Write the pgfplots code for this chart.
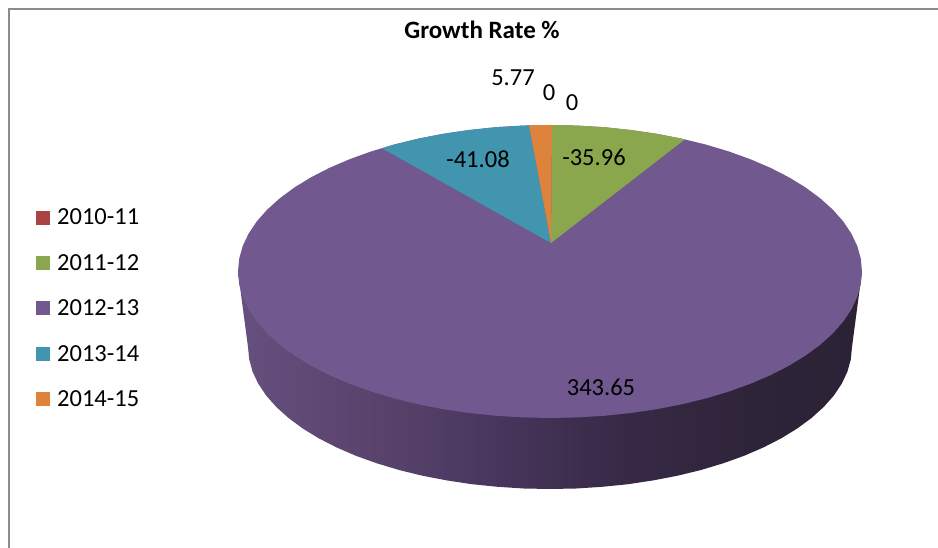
\documentclass[border=0pt]{standalone}
\usepackage{pgfplots}
\pgfplotsset{compat=1.18}
\usepackage{fontspec}
\setmainfont{Carlito}

\definecolor{sliceRed}{HTML}{AA4443}
\definecolor{sliceGreen}{HTML}{8AA74D}
\definecolor{slicePurple}{HTML}{71588E}
\definecolor{sliceTeal}{HTML}{4195AE}
\definecolor{sliceOrange}{HTML}{DD833B}
\definecolor{frameGray}{HTML}{8C8C8C}
\definecolor{wall0}{HTML}{65507F}
\definecolor{wall1}{HTML}{5D4772}
\definecolor{wall2}{HTML}{564169}
\definecolor{wall3}{HTML}{4A3860}
\definecolor{wall4}{HTML}{403052}
\definecolor{wall5}{HTML}{382A47}
\definecolor{wall6}{HTML}{2E2439}
\definecolor{wall7}{HTML}{2C2236}

% Side wall of the 3-D disc, darkening from left to right
\pgfdeclarehorizontalshading{discwall}{100bp}{
  color(0bp)=(wall0); color(25bp)=(wall0); color(32.4bp)=(wall1);
  color(38bp)=(wall2); color(44.4bp)=(wall3); color(50bp)=(wall4);
  color(55.6bp)=(wall5); color(66bp)=(wall6); color(75bp)=(wall7);
  color(100bp)=(wall7)}

\begin{document}
\begin{tikzpicture}
\useasboundingbox (0,0) rectangle (938pt,548pt);
\begin{axis}[
  at={(0,0)}, anchor=south west,
  scale only axis, width=938pt, height=548pt,
  xmin=0, xmax=938, ymin=0, ymax=548, y dir=reverse,
  hide axis, clip=true,
  legend style={
    at={(axis cs:36,207)}, anchor=north west, draw=none, fill=none,
    font=\fontsize{24.5}{24.5}\selectfont,
    row sep=24pt, inner sep=0pt, outer sep=0pt,
    cells={anchor=west}},
  legend image code/.code={
    \fill[#1, draw=none] (0pt,-7pt) rectangle (14pt,7pt);
    \path (19pt,0pt);},
]
% Chart frame: only the top and left rules fall inside the picture
\addplot[frameGray, line width=2pt, forget plot] coordinates {(9,548) (9,9.5) (938,9.5)};

% Side wall, seen below the top face
\addplot[draw=none, shade, shading=discwall, forget plot] coordinates {
  (238,271.5) (248,347) (249.2,359.4) (252.6,371.7) (258.3,383.8) (266.2,395.6)
  (276.3,407) (288.5,418) (302.6,428.4) (318.7,438.3) (336.5,447.4) (355.9,455.8)
  (376.8,463.3) (399,470) (422.4,475.7) (446.7,480.4) (471.8,484.2) (497.6,486.8)
  (523.7,488.5) (550,489) (576.3,488.5) (602.4,486.8) (628.2,484.2) (653.3,480.4)
  (677.6,475.7) (701,470) (723.2,463.3) (744.1,455.8) (763.5,447.4) (781.3,438.3)
  (797.4,428.4) (811.5,418) (823.7,407) (833.8,395.6) (841.7,383.8) (847.4,371.7)
  (850.8,359.4) (852,347) (862,271.5) (238,271.5)} -- cycle;

% Top face: the 2012-13 slice takes the whole rim, the others sit on it
\addplot[draw=none, fill=slicePurple, forget plot] coordinates {
  (862,271.5) (860.8,258.7) (857.3,246.1) (851.4,233.6) (843.2,221.4) (832.8,209.6)
  (820.2,198.3) (805.6,187.5) (789,177.3) (770.6,167.9) (750.6,159.3) (729,151.5)
  (706,144.6) (681.9,138.7) (656.7,133.8) (630.8,130) (604.2,127.2) (577.2,125.6)
  (550,125) (522.8,125.6) (495.8,127.2) (469.2,130) (443.3,133.8) (418.1,138.7)
  (394,144.6) (371,151.5) (349.4,159.3) (329.4,167.9) (311,177.3) (294.4,187.5)
  (279.8,198.3) (267.2,209.6) (256.8,221.4) (248.6,233.6) (242.7,246.1) (239.2,258.7)
  (238,271.5) (239.2,284.3) (242.7,296.9) (248.6,309.4) (256.8,321.6) (267.2,333.4)
  (279.8,344.8) (294.4,355.5) (311,365.7) (329.4,375.1) (349.4,383.7) (371,391.5)
  (394,398.4) (418.1,404.3) (443.3,409.2) (469.2,413) (495.8,415.8) (522.8,417.4)
  (550,418) (577.2,417.4) (604.2,415.8) (630.8,413) (656.7,409.2) (681.9,404.3)
  (706,398.4) (729,391.5) (750.6,383.7) (770.6,375.1) (789,365.7) (805.6,355.5)
  (820.2,344.8) (832.8,333.4) (843.2,321.6) (851.4,309.4) (857.3,296.9) (860.8,284.3)} -- cycle;

% 2011-12
\addplot[draw=none, fill=sliceGreen, forget plot] coordinates {
  (551,243) (552,125) (577.2,125.6) (604.2,127.2) (630.8,130) (656.7,133.8)
  (681.9,138.7) (685,139.3)} -- cycle;
% 2013-14
\addplot[draw=none, fill=sliceTeal, forget plot] coordinates {
  (551,243) (382,148.3) (394,144.6) (418.1,138.7) (443.3,133.8) (469.2,130)
  (495.8,127.2) (522.8,125.6) (529,125.4)} -- cycle;
% 2014-15
\addplot[draw=none, fill=sliceOrange, forget plot] coordinates {
  (551,243) (529,125.4) (550,125) (552,125)} -- cycle;

% Legend
\addlegendimage{fill=sliceRed}    \addlegendentry{2010-11}
\addlegendimage{fill=sliceGreen}  \addlegendentry{2011-12}
\addlegendimage{fill=slicePurple} \addlegendentry{2012-13}
\addlegendimage{fill=sliceTeal}   \addlegendentry{2013-14}
\addlegendimage{fill=sliceOrange} \addlegendentry{2014-15}

% Title and data labels
\node[font=\fontsize{25}{25}\selectfont\bfseries] at (axis cs:482,30) {Growth Rate \%};
\begin{scope}[every node/.style={font=\fontsize{24.5}{24.5}\selectfont, inner sep=0pt}]
\node at (axis cs:513,78) {5.77};
\node at (axis cs:549,93) {0};
\node at (axis cs:572,103) {0};
\node at (axis cs:478,159) {-41.08};
\node at (axis cs:594,157) {-35.96};
\node at (axis cs:601,387) {343.65};
\end{scope}
\end{axis}
\end{tikzpicture}
\end{document}
